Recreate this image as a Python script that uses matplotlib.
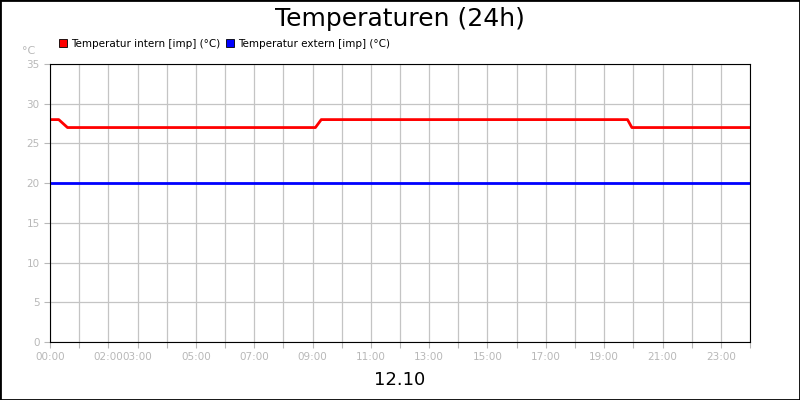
import matplotlib
matplotlib.use("Agg")
import matplotlib.pyplot as plt
from matplotlib.patches import Rectangle

# hours since 00:00
intern_t = [0.0, 0.3, 0.6, 9.1, 9.3, 19.8, 19.95, 24.0]
intern_v = [28, 28, 27, 27, 28, 28, 27, 27]
extern_t = [0.0, 24.0]
extern_v = [20, 20]
tick_hours = [0, 2, 3, 5, 7, 9, 11, 13, 15, 17, 19, 21, 23]
tick_labels = ["%02d:00" % h for h in tick_hours]

GRAY = "#b8b8b8"
fig = plt.figure(figsize=(8, 4), dpi=100)
fig.patches.append(Rectangle((0, 0), 1, 1, transform=fig.transFigure, fill=False,
                             ec="black", lw=2))
ax = fig.add_axes([0.0625, 0.145, 0.875, 0.695])
ax.plot(intern_t, intern_v, color="#ff0000", lw=2)
ax.plot(extern_t, extern_v, color="#0000ff", lw=2)
ax.set_xlim(0, 24)
ax.set_ylim(0, 35)
ax.set_yticks(range(0, 36, 5))
ax.set_xticks(range(0, 25))
ax.set_xticklabels([tick_labels[tick_hours.index(h)] if h in tick_hours else "" for h in range(25)])
ax.grid(color="#c4c4c4", lw=0.9)
ax.tick_params(colors=GRAY, labelcolor=GRAY, labelsize=7.5, length=4)
for s in ax.spines.values():
    s.set_color("black")
ax.text(-0.5, 36.2, "°C", color=GRAY, fontsize=8, ha="right")
fig.text(0.5, 0.952, "Temperaturen (24h)", ha="center", va="center", fontsize=18)
fig.text(0.5, 0.05, "12.10", ha="center", va="center", fontsize=13)
# legend
for x, c, lab in [(0.074, "#ff0000", "Temperatur intern [imp] (°C)"),
                  (0.283, "#0000ff", "Temperatur extern [imp] (°C)")]:
    fig.patches.append(Rectangle((x, 0.882), 0.01, 0.02, transform=fig.transFigure,
                                 fc=c, ec="black", lw=0.6))
    fig.text(x + 0.015, 0.891, lab, fontsize=7.5, va="center")
fig.savefig("out.png")
